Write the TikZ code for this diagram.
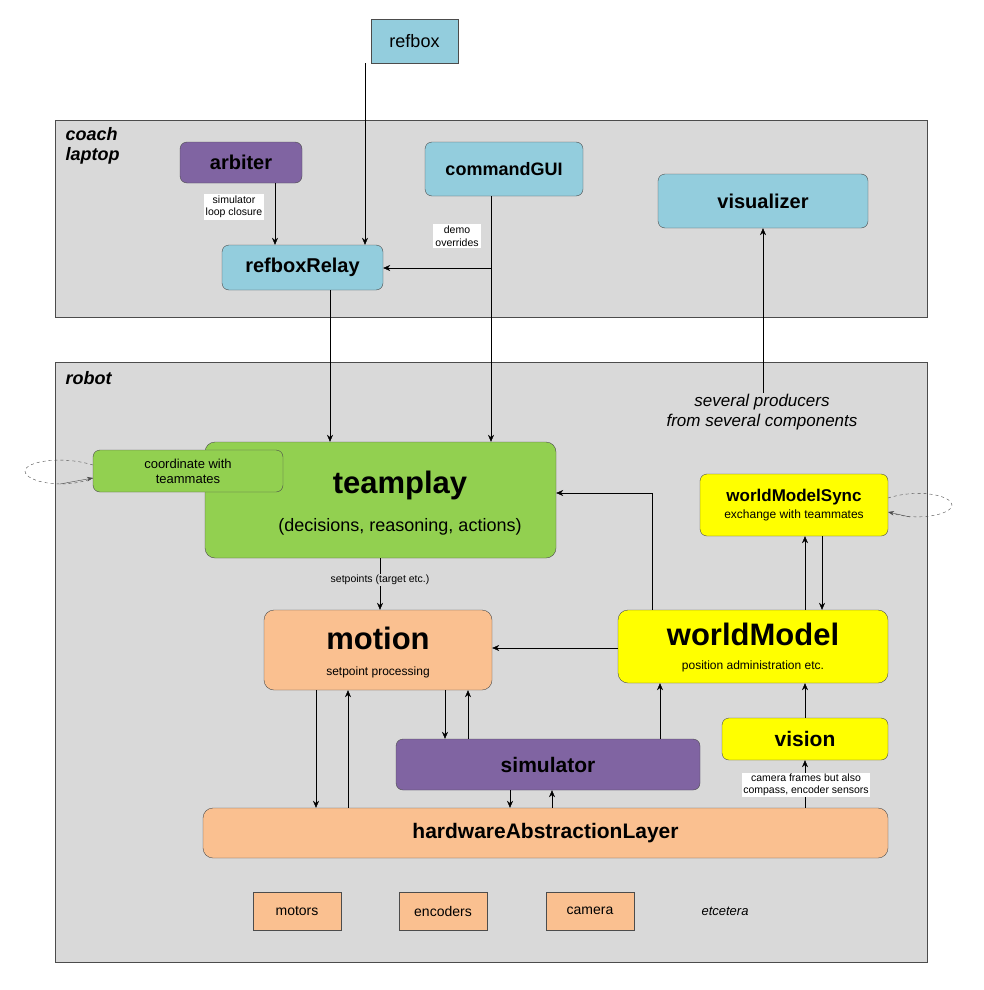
\documentclass[tikz,border=0pt]{standalone}
\usepackage{fontspec}
\setmainfont{Liberation Sans}
\usetikzlibrary{arrows.meta}
\definecolor{lb}{HTML}{93CDDD}
\definecolor{pu}{HTML}{8064A2}
\definecolor{gr}{HTML}{92D050}
\definecolor{sa}{HTML}{FAC090}
\definecolor{ye}{HTML}{FFFF00}
\definecolor{pan}{HTML}{D9D9D9}
\begin{document}
\begin{tikzpicture}[x=1pt,y=-1pt,
 box/.style={draw=black!70,rounded corners=7pt,inner sep=0pt,align=center,font=\bfseries\fontsize{18}{21}\selectfont},
 sq/.style={draw=black!70,inner sep=0pt,align=center,font=\fontsize{14}{16}\selectfont},
 lab/.style={fill=white,inner sep=2pt,align=center,font=\fontsize{10.5}{12.5}\selectfont},
 ar/.style={-{Stealth[length=7pt,width=6pt]},black}]
\useasboundingbox (0,0) rectangle (983,990);
\fill[white] (0,0) rectangle (983,990);
\draw[black!70,fill=pan] (55,120) rectangle (927,317);
\draw[black!70,fill=pan] (55,362) rectangle (927,962);
\node[anchor=north west,align=left,font=\bfseries\itshape\fontsize{18}{20}\selectfont] at (62,124) {coach\\laptop};
\node[anchor=north west,font=\bfseries\itshape\fontsize{18}{20}\selectfont] at (62,368) {robot};
\node[sq,fill=lb,minimum width=87pt,minimum height=44pt,font=\fontsize{18}{20}\selectfont] (refbox) at (414.5,41) {refbox};
\node[box,fill=pu,minimum width=122pt,minimum height=41pt,font=\bfseries\fontsize{20}{23}\selectfont] (arbiter) at (241,162.5) {arbiter};
\node[box,fill=lb,minimum width=158pt,minimum height=54pt] (gui) at (504,169) {commandGUI};
\node[box,fill=lb,minimum width=210pt,minimum height=54pt,font=\bfseries\fontsize{20}{23}\selectfont] (vis) at (763,201) {visualizer};
\node[box,fill=lb,minimum width=161pt,minimum height=45pt,font=\bfseries\fontsize{20}{23}\selectfont] (relay) at (302.5,267.5) {refboxRelay};
\node[box,fill=gr,minimum width=351pt,minimum height=116pt,rounded corners=10pt] (team) at (380.5,500) {};
\node[font=\bfseries\fontsize{31}{36}\selectfont] (teamt) at (400,485) {teamplay};
\node[font=\fontsize{18}{21}\selectfont] (teams) at (400,527) {(decisions, reasoning, actions)};
\node[box,fill=gr,minimum width=190pt,minimum height=42pt,font=\fontsize{13}{15}\selectfont] (coord) at (188,471) {coordinate with\\teammates};
\node[box,fill=ye,minimum width=188pt,minimum height=62pt,font=\bfseries\fontsize{17}{20}\selectfont] (wms) at (794,505) {worldModelSync\\[-3pt]{\mdseries\fontsize{12}{14}\selectfont exchange with teammates}};
\node[box,fill=sa,minimum width=228pt,minimum height=80pt,rounded corners=10pt] (motion) at (378,650) {};
\node[font=\bfseries\fontsize{31}{36}\selectfont] at (378,638) {motion};
\node[font=\fontsize{12}{14}\selectfont] at (378,672) {setpoint processing};
\node[box,fill=ye,minimum width=270pt,minimum height=73pt,rounded corners=10pt] (wm) at (753,646.5) {};
\node[font=\bfseries\fontsize{31}{36}\selectfont] at (753,634) {worldModel};
\node[font=\fontsize{12}{14}\selectfont] at (753,666) {position administration etc.};
\node[box,fill=ye,minimum width=166pt,minimum height=42pt,font=\bfseries\fontsize{21}{24}\selectfont] (vision) at (805,739) {vision};
\node[box,fill=pu,minimum width=304pt,minimum height=51pt,font=\bfseries\fontsize{21}{24}\selectfont] (sim) at (548,764.5) {simulator};
\node[box,fill=sa,minimum width=685pt,minimum height=50pt,rounded corners=10pt,font=\bfseries\fontsize{21}{24}\selectfont] (hal) at (545.5,833) {hardwareAbstractionLayer};
\node[sq,fill=sa,minimum width=88pt,minimum height=38pt] (motors) at (297,911) {motors};
\node[sq,fill=sa,minimum width=88pt,minimum height=38pt] (enc) at (443,911) {encoders};
\node[sq,fill=sa,minimum width=88pt,minimum height=38pt] (cam) at (590,911) {camera};
\node[font=\itshape\fontsize{13}{15}\selectfont] (etc) at (725,911) {etcetera};
\node[align=center,font=\itshape\fontsize{17}{20}\selectfont,inner sep=1pt] (sev) at (762,412) {several producers\\from several components};
% dashed loops
\draw[dashed,black!70] (93,465) .. controls (60,455) and (25,462) .. (25,471) .. controls (25,482) and (65,490) .. (93,478);
\draw[-{Stealth[length=6pt]},black!70] (60,484) -- (93,478);
\draw[dashed,black!70] (888,498) .. controls (920,488) and (952,496) .. (952,505) .. controls (952,515) and (915,522) .. (888,512);
\draw[-{Stealth[length=6pt]},black!70] (910,517) -- (888,512);
% arrows
\draw[ar] (refbox.south -| 365,0) -- (relay.north -| 365,0);
\draw[ar] (arbiter.south -| 275,0) -- (relay.north -| 275,0);
\node[lab] at (234,207) {simulator\\loop closure};
\draw[ar] (gui.south -| 491,0) -- (team.north -| 491,0);
\coordinate (br) at (491,268);
\draw[ar] (br) -- (relay.east |- br);
\node[lab] at (457,236) {demo\\overrides};
\draw[ar] (relay.south -| 330,0) -- (team.north -| 330,0);
\draw[ar] (sev.north -| 763,0) -- (vis.south -| 763,0);
\draw[ar] (wm.north -| 652,0) |- (team.east |- 0,493);
\draw[ar] (wm.north -| 805,0) -- (wms.south -| 805,0);
\draw[ar] (wms.south -| 822,0) -- (wm.north -| 822,0);
\draw[ar] (team.south -| 380,0) -- (motion.north -| 380,0);
\node[fill=pan,inner sep=1pt,font=\fontsize{10.5}{12.5}\selectfont] at (380,580) {setpoints (target etc.)};
\draw[ar] (wm.west |- 0,648) -- (motion.east |- 0,648);
\draw[ar] (motion.south -| 316,0) -- (hal.north -| 316,0);
\draw[ar] (hal.north -| 348,0) -- (motion.south -| 348,0);
\draw[ar] (motion.south -| 445,0) -- (sim.north -| 445,0);
\draw[ar] (sim.north -| 468,0) -- (motion.south -| 468,0);
\draw[ar] (sim.north -| 660,0) -- (wm.south -| 660,0);
\draw[ar] (sim.south -| 510,0) -- (hal.north -| 510,0);
\draw[ar] (hal.north -| 552,0) -- (sim.south -| 552,0);
\draw[ar] (vision.north -| 805,0) -- (wm.south -| 805,0);
\draw[ar] (hal.north -| 805,0) -- (vision.south -| 805,0);
\node[lab,fill=white,inner sep=1pt] at (806,785) {camera frames but also\\compass, encoder sensors};
\end{tikzpicture}
\end{document}
